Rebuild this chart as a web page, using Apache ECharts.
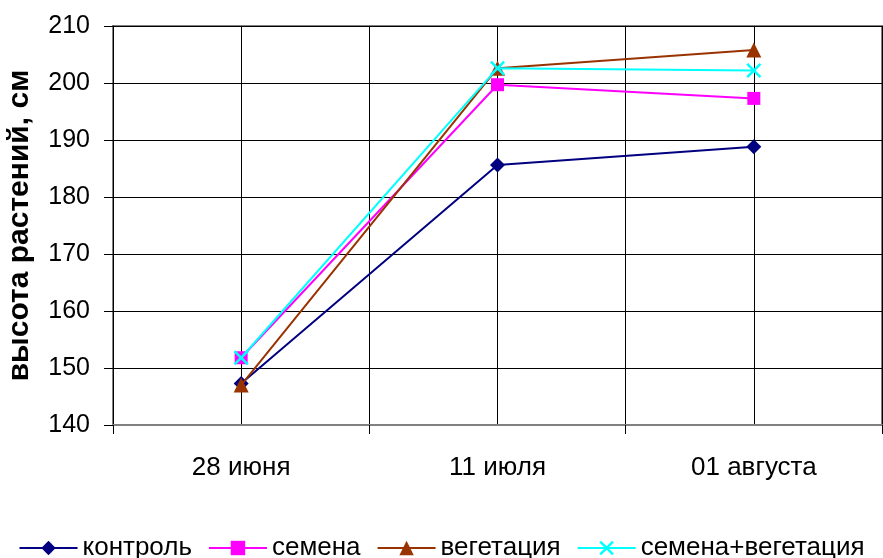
<!DOCTYPE html>
<html><head><meta charset="utf-8">
<script src="https://cdn.jsdelivr.net/npm/echarts@6/dist/echarts.min.js"></script>
<style>html,body{margin:0;padding:0;background:#fff}#c{width:883px;height:558px}</style>
</head><body><div id="c"></div>
<script>
const categories = ['28 июня', '11 июля', '01 августа'];
const seriesNames = ['контроль', 'семена', 'вегетация', 'семена+вегетация'];
const kontrol = [147.3, 185.6, 188.8];
const semena = [151.8, 199.7, 197.3];
const vegetacia = [147.0, 202.6, 205.8];
const semenaVeg = [151.8, 202.6, 202.2];
const yTicks = [140, 150, 160, 170, 180, 190, 200, 210];
const yAxisTitle = 'высота растений, см';

const colors = ['#000080', '#FF00FF', '#993300', '#00FFFF'];
const xPath = 'path://M0,1.2L1.2,0L5,3.8L8.8,0L10,1.2L6.2,5L10,8.8L8.8,10L5,6.2L1.2,10L0,8.8L3.8,5Z';
const symbols = ['diamond', 'rect', 'triangle', xPath];
const sizes = [15, 13, 15, 15];
const datasets = [kontrol, semena, vegetacia, semenaVeg];
const font = 'Liberation Sans, Arial, sans-serif';

const chart = echarts.init(document.getElementById('c'), null, {renderer: 'canvas'});
chart.setOption({
  animation: false,
  color: colors,
  grid: {left: 113, right: 1, top: 26, bottom: 133, containLabel: false,
         outerBoundsMode: 'none',
         show: true, borderColor: '#808080', borderWidth: 2},
  legend: {
    top: 530, left: 'center', itemWidth: 58, itemHeight: 18, itemGap: 16,
    textStyle: {fontFamily: font, fontSize: 26, color: '#000'},
    data: seriesNames
  },
  xAxis: [
    {type: 'category', data: categories, boundaryGap: true,
     axisLine: {show: true, lineStyle: {color: '#808080', width: 2}},
     axisTick: {show: true, length: 9, inside: false, lineStyle: {color: '#000'}},
     axisLabel: {fontFamily: font, fontSize: 26, color: '#000', margin: 30},
     splitLine: {show: false}},
    {type: 'value', min: 0, max: 6, interval: 1, show: true, position: 'top',
     axisLine: {show: false}, axisTick: {show: false}, axisLabel: {show: false},
     splitLine: {show: true, lineStyle: {color: '#000', width: 1}}}
  ],
  yAxis: {
    type: 'value', min: yTicks[0], max: yTicks[yTicks.length-1], interval: 10,
    name: yAxisTitle, nameLocation: 'middle', nameGap: 78, nameRotate: 90,
    nameTextStyle: {fontFamily: font, fontSize: 30, fontWeight: 'bold', color: '#000'},
    axisLine: {show: true, lineStyle: {color: '#000', width: 1}},
    axisTick: {show: true, length: 9, lineStyle: {color: '#000'}},
    axisLabel: {fontFamily: font, fontSize: 25, color: '#000', margin: 23},
    splitLine: {show: true, lineStyle: {color: '#000', width: 1}}
  },
  series: seriesNames.map((n, i) => ({
    name: n, type: 'line', data: datasets[i], xAxisIndex: 0,
    symbol: symbols[i], symbolSize: sizes[i], showAllSymbol: true,
    lineStyle: {color: colors[i], width: 2},
    itemStyle: {color: colors[i]},
    z: 2 + i
  }))
});
</script></body></html>
